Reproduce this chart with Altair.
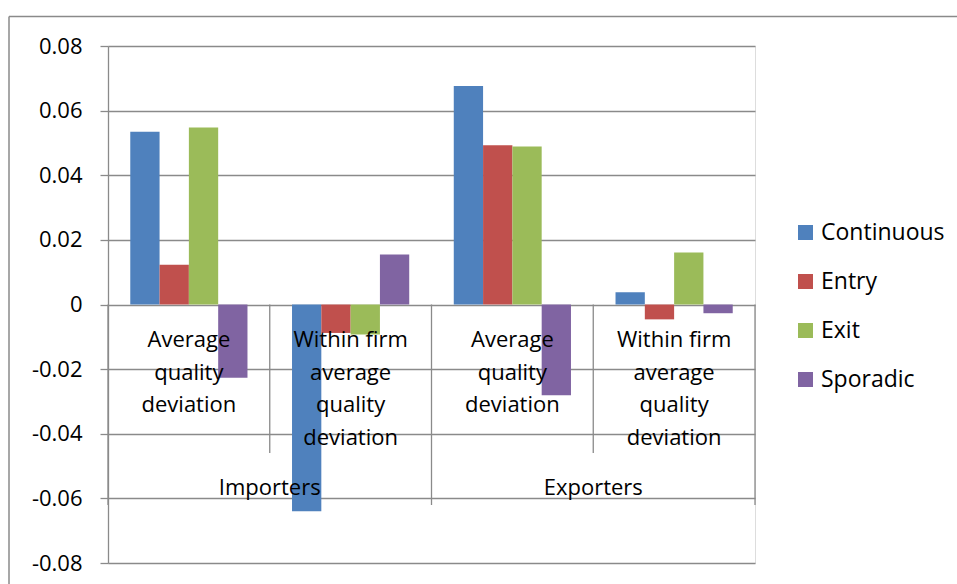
import altair as alt
import pandas as pd

# ---- data ----
groups = ["Importers", "Importers", "Exporters", "Exporters"]
measures = ["Average quality deviation", "Within firm average quality deviation",
            "Average quality deviation", "Within firm average quality deviation"]
measure_lines = ["Average\nquality\ndeviation", "Within firm\naverage\nquality\ndeviation",
                 "Average\nquality\ndeviation", "Within firm\naverage\nquality\ndeviation"]
series = ["Continuous", "Entry", "Exit", "Sporadic"]
continuous = [0.0535, -0.0640, 0.0676, 0.0038]
entry = [0.0123, -0.0088, 0.0493, -0.0046]
exit_ = [0.0548, -0.0093, 0.0489, 0.0161]
sporadic = [-0.0227, 0.0155, -0.0281, -0.0027]
y_ticks = [-0.08, -0.06, -0.04, -0.02, 0, 0.02, 0.04, 0.06, 0.08]
colors = ["#4F81BD", "#C0504D", "#9BBB59", "#8064A2"]

cats = [f"{g}|{m}" for g, m in zip(groups, measures)]
values_by_series = [continuous, entry, exit_, sporadic]
rows = []
for s, vals in zip(series, values_by_series):
    for c, v in zip(cats, vals):
        rows.append({"cat": c, "series": s, "value": v})
df = pd.DataFrame(rows)

lab_df = pd.DataFrame({"cat": cats, "label": measure_lines})
grp_names = ["Importers", "Exporters"]
grp_df = pd.DataFrame({"cat": [cats[0], cats[2]], "label": grp_names})
inner_df = pd.DataFrame({"cat": [cats[0], cats[2]]})
outer_left_df = pd.DataFrame({"cat": [cats[0], cats[2]]})
outer_right_df = pd.DataFrame({"cat": [cats[3]]})

FONT = "Open Sans"
GRID = "#8a8a8a"

xscale = alt.Scale(domain=cats, paddingInner=0, paddingOuter=0)
yscale = alt.Scale(domain=[-0.08, 0.08], nice=False, zero=False)

def xenc(bp=0.5):
    return alt.X("cat:N", sort=cats, scale=xscale, axis=None, bandPosition=bp)

bars = alt.Chart(df).mark_bar().encode(
    x=alt.X("cat:N", sort=cats, scale=xscale, axis=None),
    xOffset=alt.XOffset("series:N", sort=series,
                        scale=alt.Scale(domain=series, paddingOuter=0.76, paddingInner=0)),
    y=alt.Y("value:Q", scale=yscale, stack=None, title=None,
            axis=alt.Axis(values=y_ticks, grid=True, gridColor=GRID, gridWidth=1.3,
                          domainColor=GRID, domainWidth=1.3, tickColor=GRID, tickWidth=1.3,
                          tickSize=8, labelPadding=18, labelFontSize=22, labelFont=FONT,
                          labelColor="black",
                          labelExpr="datum.value == 0 ? '0' : (datum.value < 0 ? '-' : '') + format(abs(datum.value), '.2f')")),
    y2=alt.datum(0),
    color=alt.Color("series:N", sort=series, scale=alt.Scale(domain=series, range=colors),
                    legend=alt.Legend(title=None, orient="none", legendX=686, legendY=175,
                                      symbolType="square", symbolSize=225, symbolStrokeWidth=0,
                                      labelFontSize=23, labelFont=FONT, labelColor="black",
                                      rowPadding=25, labelOffset=4)),
)

rule_style = dict(color=GRID, strokeWidth=1.3)

inner_sep = alt.Chart(inner_df).mark_rule(**rule_style).encode(
    x=xenc(1), y=alt.datum(0), y2=alt.value(407))
outer_sep_l = alt.Chart(outer_left_df).mark_rule(**rule_style).encode(
    x=xenc(0), y=alt.datum(0), y2=alt.value(459))
outer_sep_r = alt.Chart(outer_right_df).mark_rule(**rule_style).encode(
    x=xenc(1), y=alt.datum(0), y2=alt.value(459))

cat_text = alt.Chart(lab_df).mark_text(
    lineBreak="\n", lineHeight=32.5, baseline="alphabetic", align="center",
    fontSize=22, font=FONT, color="black").encode(
    x=xenc(0.5), y=alt.value(301), text="label:N")

grp_text = alt.Chart(grp_df).mark_text(
    baseline="alphabetic", align="center", fontSize=22, font=FONT, color="black").encode(
    x=xenc(1), y=alt.value(449), text="label:N")

border_top = alt.Chart().mark_rule(color=GRID, strokeWidth=1.5).encode(
    x=alt.value(-99), x2=alt.value(900), y=alt.value(-29.5))
border_left = alt.Chart().mark_rule(color=GRID, strokeWidth=1.5).encode(
    x=alt.value(-99), y=alt.value(-29.5), y2=alt.value(600))

chart = alt.layer(
    bars, inner_sep, outer_sep_l, outer_sep_r, cat_text, grp_text, border_top, border_left
).properties(
    width=647, height=517,
    autosize=alt.AutoSizeParams(type="none"),
    padding={"left": 108, "top": 46, "right": 202, "bottom": 21},
).configure_view(stroke=None).configure(background="white")

chart.save("out.html", embed_options={"renderer": "svg", "actions": False})
